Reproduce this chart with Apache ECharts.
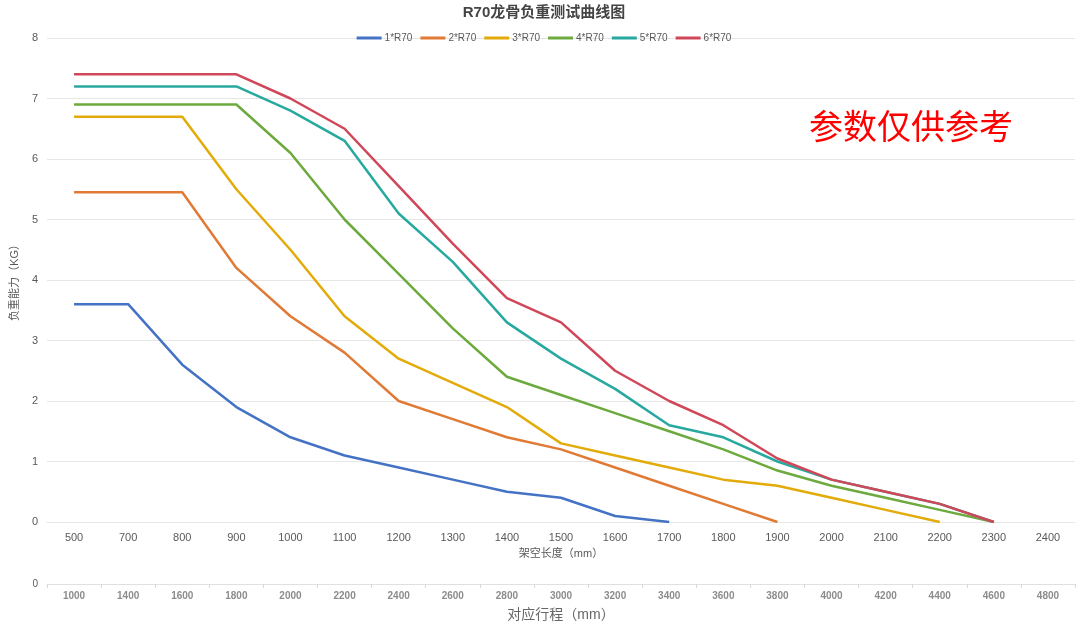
<!DOCTYPE html>
<html>
<head>
<meta charset="utf-8">
<script src="https://cdn.jsdelivr.net/npm/echarts@6/dist/echarts.min.js"></script>
<style>
html,body{margin:0;padding:0;background:#fff;}
#main{width:1088px;height:624px;}
</style>
</head>
<body>
<div id="main"></div>
<script>
// 架空长度 (mm)
const spans = ['500','700','800','900','1000','1100','1200','1300','1400','1500','1600','1700','1800','1900','2000','2100','2200','2300','2400'];
// 对应行程 (mm)
const strokes = ['1000','1400','1600','1800','2000','2200','2400','2600','2800','3000','3200','3400','3600','3800','4000','4200','4400','4600','4800'];

const names = ['1*R70','2*R70','3*R70','4*R70','5*R70','6*R70'];
const colors = ['#4472C4','#E07A35','#E2AB0A','#6CAA3E','#27A9A0','#D04759'];

const r1 = [3.6, 3.6, 2.6, 1.9, 1.4, 1.1, 0.9, 0.7, 0.5, 0.4, 0.1, 0];
const r2 = [5.45, 5.45, 5.45, 4.2, 3.4, 2.8, 2.0, 1.7, 1.4, 1.2, 0.9, 0.6, 0.3, 0];
const r3 = [6.7, 6.7, 6.7, 5.5, 4.5, 3.4, 2.7, 2.3, 1.9, 1.3, 1.1, 0.9, 0.7, 0.6, 0.4, 0.2, 0];
const r4 = [6.9, 6.9, 6.9, 6.9, 6.1, 5.0, 4.1, 3.2, 2.4, 2.1, 1.8, 1.5, 1.2, 0.85, 0.6, 0.4, 0.2, 0];
const r5 = [7.2, 7.2, 7.2, 7.2, 6.8, 6.3, 5.1, 4.3, 3.3, 2.7, 2.2, 1.6, 1.4, 1.0, 0.7, 0.5, 0.3, 0];
const r6 = [7.4, 7.4, 7.4, 7.4, 7.0, 6.5, 5.55, 4.6, 3.7, 3.3, 2.5, 2.0, 1.6, 1.05, 0.7, 0.5, 0.3, 0];
const values = [r1, r2, r3, r4, r5, r6];

const font = '"Liberation Sans", "Noto Sans CJK SC", sans-serif';

const chart = echarts.init(document.getElementById('main'));
chart.setOption({
    animation: false,
    backgroundColor: '#fff',
    textStyle: {fontFamily: font},
    color: colors,
    title: {
        text: 'R70龙骨负重测试曲线图',
        left: 'center',
        top: 0,
        textStyle: {fontSize: 15, fontWeight: 'bold', color: '#444', fontFamily: font}
    },
    legend: {
        top: 28,
        left: 'center',
        icon: 'rect',
        itemWidth: 25,
        itemHeight: 3,
        itemGap: 8,
        textStyle: {fontSize: 10, color: '#595959', padding: [0, 0, 0, -2]},
        data: names
    },
    graphic: [{
        type: 'text',
        left: 809,
        top: 109,
        style: {text: '参数仅供参考', fill: '#ff0000', font: '34px "Noto Sans CJK SC", sans-serif'}
    }],
    grid: [
        {left: 47, right: 13, top: 38, bottom: 102},
        {left: 47, right: 13, top: 583, height: 1}
    ],
    xAxis: [{
        type: 'category',
        gridIndex: 0,
        data: spans,
        boundaryGap: true,
        name: '架空长度（mm）',
        nameLocation: 'middle',
        nameGap: 26,
        nameTextStyle: {fontSize: 11, color: '#595959'},
        axisLine: {lineStyle: {color: '#e6e6e6'}},
        axisTick: {show: false},
        axisLabel: {fontSize: 11, color: '#595959', margin: 10}
    }, {
        type: 'category',
        gridIndex: 1,
        data: strokes,
        boundaryGap: true,
        name: '对应行程（mm）',
        nameLocation: 'middle',
        nameGap: 24,
        nameTextStyle: {fontSize: 14, color: '#666'},
        axisLine: {lineStyle: {color: '#e0e0e0'}},
        axisTick: {show: true, length: 4, lineStyle: {color: '#d9d9d9'}},
        axisLabel: {fontSize: 10, color: '#8c8c8c', fontWeight: 'bold', margin: 7}
    }],
    yAxis: [{
        type: 'value',
        gridIndex: 0,
        min: 0,
        max: 8,
        interval: 1,
        name: '负重能力（KG）',
        nameLocation: 'middle',
        nameGap: 27,
        nameMoveOverlap: false,
        nameTextStyle: {fontSize: 11, color: '#595959'},
        axisLine: {show: false},
        axisTick: {show: false},
        axisLabel: {fontSize: 11, color: '#595959', margin: 9},
        splitLine: {lineStyle: {color: '#e6e6e6'}}
    }, {
        type: 'value',
        gridIndex: 1,
        min: 0,
        max: 1,
        interval: 1,
        axisLine: {show: false},
        axisTick: {show: false},
        splitLine: {show: false},
        axisLabel: {fontSize: 10, color: '#595959', margin: 9,
            formatter: v => v === 0 ? '0' : ''}
    }],
    series: names.map((n, i) => ({
        name: n,
        type: 'line',
        xAxisIndex: 0,
        yAxisIndex: 0,
        data: values[i],
        showSymbol: false,
        symbol: 'none',
        lineStyle: {width: 2.5, color: colors[i]},
        itemStyle: {color: colors[i]}
    }))
});
</script>
</body>
</html>
